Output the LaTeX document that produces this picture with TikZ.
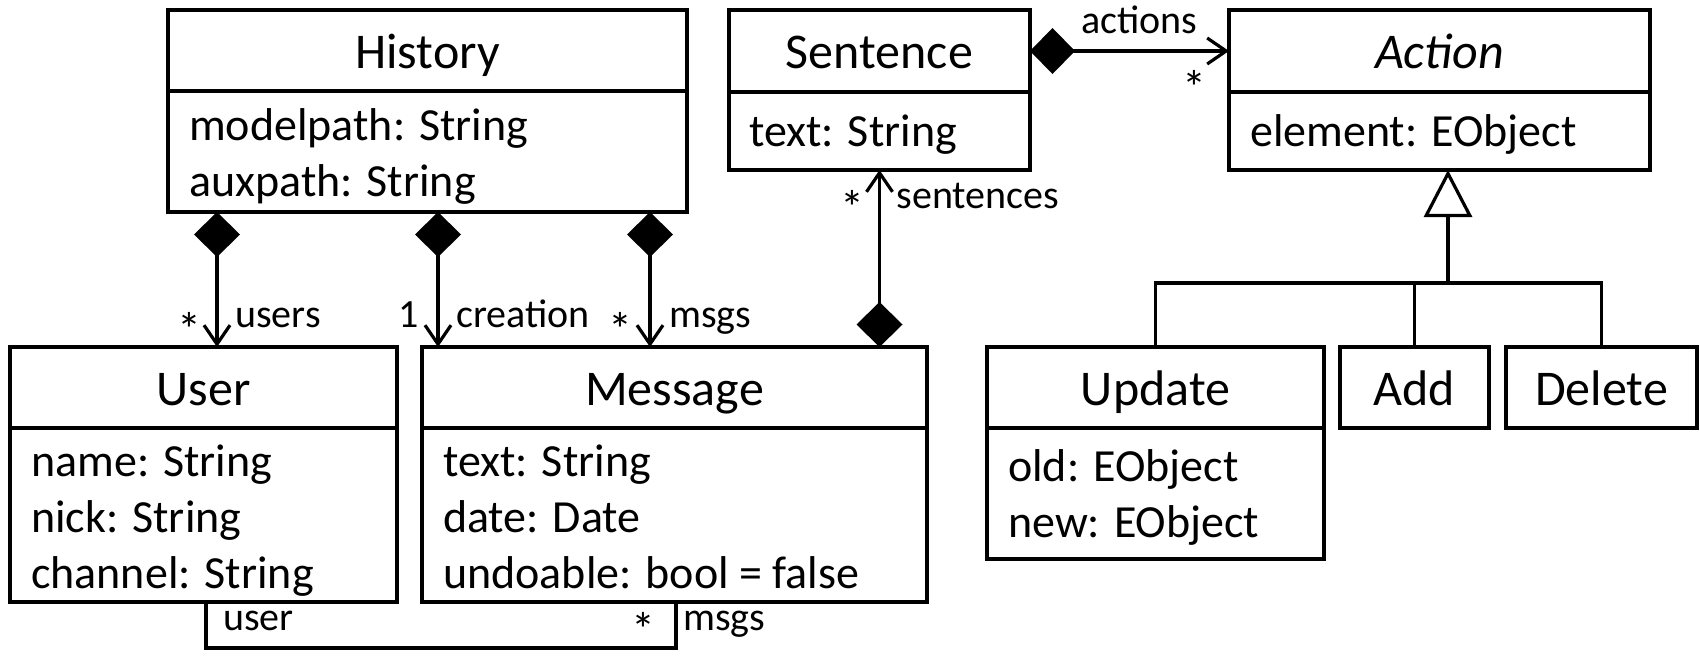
\documentclass[tikz,border=0pt]{standalone}
\usepackage{fontspec}
\setmainfont{Carlito}
\usetikzlibrary{arrows.meta,calc}
\begin{document}
\begin{tikzpicture}[x=1pt,y=-1pt,
  box/.style={draw, line width=3.4pt, inner sep=0pt, outer sep=0pt, anchor=north west},
  head/.style={box, minimum height=81pt, font=\fontsize{50}{60}\selectfont, text height=40pt, text depth=5pt},
  body/.style={box, anchor=north},
  attr/.style={anchor=base west, inner sep=0pt, font=\fontsize{46}{56}\selectfont},
  lbl/.style={inner sep=0pt, font=\fontsize{40}{48}\selectfont},
  role/.style={lbl, anchor=base west},
  mult/.style={lbl, anchor=base},
  star/.style={mult, font=\fontsize{48}{56}\selectfont, yshift=-4pt},
  conn/.style={line width=3.2pt},
  comp/.style={conn, arrows={Diamond[length=45pt,width=46pt]-Straight Barb[length=19pt,width=26pt]}},
  gen/.style={conn, arrows={-Triangle[open,length=47pt,width=48pt]}},
]
\useasboundingbox (0,0) rectangle (1700,656);

% ---- classes ----
\node[head, minimum width=519pt] (hist) at (168,10) {History};
\node[body, minimum width=519pt, minimum height=121pt] (hista) at (hist.south) {};
\node[attr] at ($(hista.north west)+(21,49)$) {modelpath: String};
\node[attr] at ($(hista.north west)+(21,105)$) {auxpath: String};

\node[head, minimum width=301pt, minimum height=82pt] (sent) at (729,10) {Sentence};
\node[body, minimum width=301pt, minimum height=78pt] (senta) at (sent.south) {};
\node[attr] at ($(senta.north west)+(20,54)$) {text: String};

\node[head, minimum width=421pt, minimum height=82pt] (act) at (1229,10) {\itshape Action};
\node[body, minimum width=421pt, minimum height=78pt] (acta) at (act.south) {};
\node[attr] at ($(acta.north west)+(21,54)$) {element: EObject};

\node[head, minimum width=387pt] (user) at (10,347) {User};
\node[body, minimum width=387pt, minimum height=174pt] (usera) at (user.south) {};
\node[attr] at ($(usera.north west)+(21,48)$) {name: String};
\node[attr] at ($(usera.north west)+(21,104)$) {nick: String};
\node[attr] at ($(usera.north west)+(21,160)$) {channel: String};

\node[head, minimum width=505pt] (msg) at (422,347) {Message};
\node[body, minimum width=505pt, minimum height=174pt] (msga) at (msg.south) {};
\node[attr] at ($(msga.north west)+(21,48)$) {text: String};
\node[attr] at ($(msga.north west)+(21,104)$) {date: Date};
\node[attr] at ($(msga.north west)+(21,160)$) {undoable: bool = false};

\node[head, minimum width=337pt] (upd) at (987,347) {Update};
\node[body, minimum width=337pt, minimum height=131pt] (upda) at (upd.south) {};
\node[attr] at ($(upda.north west)+(21,53)$) {old: EObject};
\node[attr] at ($(upda.north west)+(21,109)$) {new: EObject};

\node[head, minimum width=149pt] (add) at (1340,347) {Add};
\node[head, minimum width=191pt] (del) at (1506,347) {Delete};

% ---- compositions owned by History ----
\coordinate (c1) at ($(hista.south west)+(49,0)$);
\coordinate (c2) at ($(hista.south west)+(270,0)$);
\coordinate (c3) at ($(hista.south west)+(482,0)$);
\coordinate (e1) at (c1 |- user.north);
\coordinate (e2) at (c2 |- msg.north);
\coordinate (e3) at (c3 |- msg.north);
\draw[comp] (c1) -- (e1);
\draw[comp] (c2) -- (e2);
\draw[comp] (c3) -- (e3);
\node[star] at ($(e1)+(-28,-5)$) {*};
\node[role] at ($(e1)+(18,-20)$) {users};
\node[mult] at ($(e2)+(-29,-20)$) {1};
\node[role] at ($(e2)+(18,-20)$) {creation};
\node[star] at ($(e3)+(-30,-5)$) {*};
\node[role] at ($(e3)+(19,-20)$) {msgs};

% ---- Message owns its sentences ----
\coordinate (s0) at (senta.south |- msg.north);
\draw[comp] (s0) -- (senta.south);
\node[star] at ($(senta.south)+(-27,50)$) {*};
\node[role] at ($(senta.south)+(17,38)$) {sentences};

% ---- Sentence owns its actions ----
\draw[comp] (sent.east) -- (act.west);
\node[role] at ($(act.west)+(-148,-18)$) {actions};
\node[star] at ($(act.west)+(-35,49)$) {*};

% ---- User / Message association ----
\coordinate (b1) at ($(usera.south west)+(196,0)$);
\coordinate (b2) at ($(msga.south west)+(254,0)$);
\draw[conn] (b1) -- ++(0,46) -| (b2);
\node[role] at ($(b1)+(17,28)$) {user};
\node[star] at ($(b2)+(-33,40)$) {*};
\node[role] at ($(b2)+(7,28)$) {msgs};

% ---- generalization of Action ----
\coordinate (g) at (1448,283);
\draw[gen] (g) -- (g |- acta.south);
\draw[conn] (upd.north) -- (upd.north |- g) -- (del.north |- g) -- (del.north);
\draw[conn] (add.north) -- (add.north |- g);
\end{tikzpicture}
\end{document}
